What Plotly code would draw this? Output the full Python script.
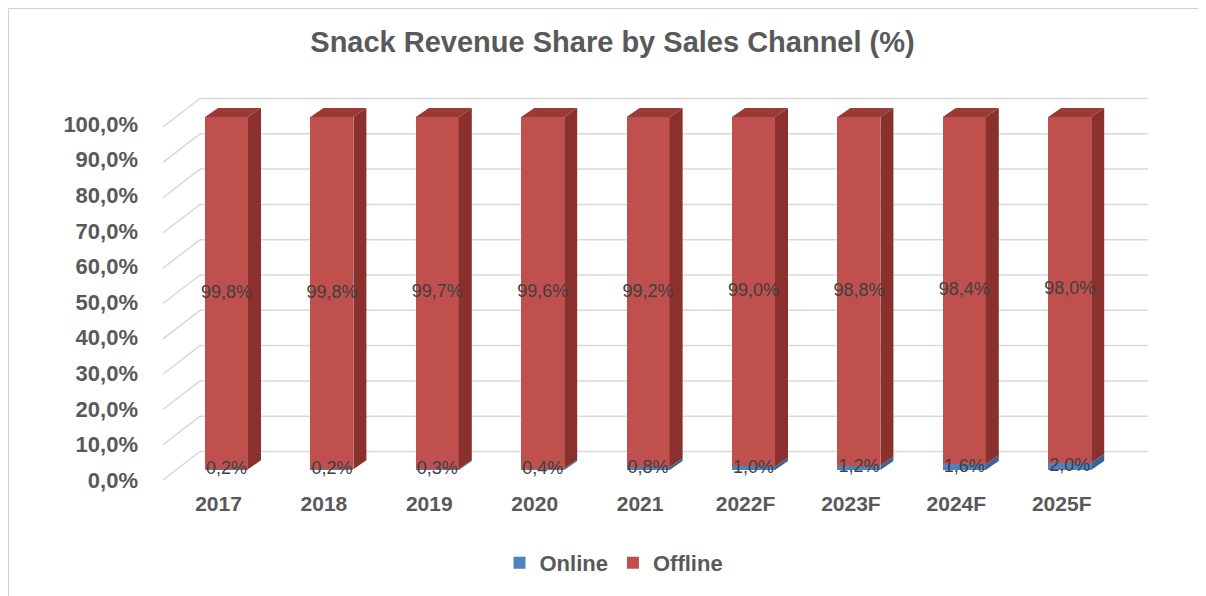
import plotly.graph_objects as go

# ---------------- data ----------------
categories = ["2017", "2018", "2019", "2020", "2021", "2022F", "2023F", "2024F", "2025F"]
online = [0.2, 0.2, 0.3, 0.4, 0.8, 1.0, 1.2, 1.6, 2.0]
offline = [99.8, 99.8, 99.7, 99.6, 99.2, 99.0, 98.8, 98.4, 98.0]
y_ticks = [0, 10, 20, 30, 40, 50, 60, 70, 80, 90, 100]


def pct(v):
    return f"{v:.1f}".replace(".", ",") + "%"


y_tick_labels = [pct(v) for v in y_ticks]

# ---------------- layout geometry (screen pixels; page has an 8px body margin) ----------------
OFF = 8
W, H = 1206 - OFF, 596 - OFF   # figure fits the window without scrollbars
L, R, T, B = 163 - OFF, 1148 - OFF, 90 - OFF, 487 - OFF
cat_px = 105.4          # px per category
val_px = 3.53           # px per percentage point (bar front faces)
first_center_px = 226.5 - OFF
zero_px = 470 - OFF
label_zero_px = 480 - OFF
label_px = 3.56
cat_label_shift = 8

x_range = [(L - first_center_px) / cat_px, (R - first_center_px) / cat_px]
x2_range = [x_range[0] + cat_label_shift / cat_px, x_range[1] + cat_label_shift / cat_px]
y_range = [-(B - zero_px) / val_px, (zero_px - T) / val_px]
y2_range = [-(B - label_zero_px) / label_px, (label_zero_px - T) / label_px]

bar_w = 43 / cat_px
depth_dx = 13 / cat_px
depth_dy = 9 / val_px
wall_dx = 37 / cat_px
back_dy = 18.5 / val_px
label_dy = 10 / val_px
back_left = x_range[0] + wall_dx

RED, RED_SIDE, RED_TOP = "#C0504D", "#8A302D", "#9A3A37"
BLUE, BLUE_SIDE = "#4F81BD", "#3A6497"
GRID = "#D9D9D9"
TXT = "#595959"
FONT = "Liberation Sans, Arial, sans-serif"

xs = list(range(len(categories)))

fig = go.Figure()

# front faces
fig.add_trace(go.Bar(x=xs, y=online, name="Online", marker=dict(color=BLUE, line=dict(width=0)),
                     width=bar_w, hoverinfo="skip"))
fig.add_trace(go.Bar(x=xs, y=offline, name="Offline", marker=dict(color=RED, line=dict(width=0)),
                     width=bar_w, hoverinfo="skip"))


def side_poly(bottoms, tops):
    px, py = [], []
    for i, (b, t) in enumerate(zip(bottoms, tops)):
        xr = i + bar_w / 2
        px += [xr, xr + depth_dx, xr + depth_dx, xr, xr, None]
        py += [b, b + depth_dy, t + depth_dy, t, b, None]
    return px, py


def top_poly(tops):
    px, py = [], []
    for i, t in enumerate(tops):
        xl, xr = i - bar_w / 2, i + bar_w / 2
        px += [xl, xr, xr + depth_dx, xl + depth_dx, xl, None]
        py += [t, t, t + depth_dy, t + depth_dy, t, None]
    return px, py


totals = [a + b for a, b in zip(online, offline)]

sx, sy = side_poly([0] * len(online), online)
fig.add_trace(go.Scatter(x=sx, y=sy, fill="toself", fillcolor=BLUE_SIDE, mode="lines",
                         line=dict(width=0, color=BLUE_SIDE), showlegend=False, hoverinfo="skip"))
sx, sy = side_poly(online, totals)
fig.add_trace(go.Scatter(x=sx, y=sy, fill="toself", fillcolor=RED_SIDE, mode="lines",
                         line=dict(width=0, color=RED_SIDE), showlegend=False, hoverinfo="skip"))
tx, ty = top_poly(totals)
fig.add_trace(go.Scatter(x=tx, y=ty, fill="toself", fillcolor=RED_TOP, mode="lines",
                         line=dict(width=0, color=RED_TOP), showlegend=False, hoverinfo="skip"))

# data labels
fig.add_trace(go.Scatter(x=xs, y=[o + f / 2 for o, f in zip(online, offline)], mode="text",
                         text=[pct(v) for v in offline], textposition="middle center",
                         textfont=dict(family=FONT, size=18, color="#3F3F3F"),
                         showlegend=False, hoverinfo="skip", cliponaxis=False))
fig.add_trace(go.Scatter(x=xs, y=[o / 2 for o in online], mode="text",
                         text=[pct(v) for v in online], textposition="middle center",
                         textfont=dict(family=FONT, size=18, color="#3F3F3F"),
                         showlegend=False, hoverinfo="skip", cliponaxis=False))

# empty trace that carries the label axes (x2 / y2)
fig.add_trace(go.Scatter(x=[None], y=[None], xaxis="x2", yaxis="y2", mode="markers",
                         showlegend=False, hoverinfo="skip"))

# back-wall gridlines and side-wall lines
shapes = []
for v in y_ticks:
    shapes.append(dict(type="line", xref="x", yref="y", layer="below",
                       x0=back_left, x1=x_range[1], y0=v + back_dy, y1=v + back_dy,
                       line=dict(color=GRID, width=1.5)))
    shapes.append(dict(type="line", xref="x", yref="y", layer="below",
                       x0=x_range[0], x1=back_left, y0=v - label_dy, y1=v + back_dy,
                       line=dict(color=GRID, width=1.5)))
# chart border (only the left and top edges are visible in the reference)
pw, ph = R - L, B - T
bx, by = (0.5 - L) / pw, (B - 0.5) / ph
shapes.append(dict(type="line", xref="paper", yref="paper", layer="below",
                   x0=bx, x1=bx, y0=(B - H - 20) / ph, y1=by,
                   line=dict(color="#D0D0D0", width=1)))
shapes.append(dict(type="line", xref="paper", yref="paper", layer="below",
                   x0=bx, x1=(W + 20 - L) / pw, y0=by, y1=by,
                   line=dict(color="#D0D0D0", width=1)))

fig.update_layout(
    width=W, height=H,
    margin=dict(l=L, r=W - R, t=T, b=H - B),
    paper_bgcolor="white", plot_bgcolor="white",
    barmode="stack",
    shapes=shapes,
    font=dict(family=FONT, color=TXT),
    title=dict(text="Snack Revenue Share by Sales Channel (%)", x=(612.5 - OFF) / W,
               xanchor="center", y=1 - (42 - OFF) / H, yanchor="middle", yref="container",
               font=dict(family=FONT, size=29, color=TXT, weight="bold")),
    xaxis=dict(range=x_range, showgrid=False, zeroline=False, showline=False,
               showticklabels=False, ticks=""),
    yaxis=dict(range=y_range, showgrid=False, zeroline=False, showline=False,
               showticklabels=False, ticks=""),
    xaxis2=dict(range=x2_range, overlaying="x", side="bottom", anchor="y2",
                tickvals=xs, ticktext=categories, showgrid=False, zeroline=False,
                showline=False, ticks="", ticklabelstandoff=2,
                tickfont=dict(family=FONT, size=21, color=TXT, weight="bold")),
    yaxis2=dict(range=y2_range, overlaying="y", side="left", anchor="x2",
                tickvals=y_ticks, ticktext=y_tick_labels, showgrid=False,
                zeroline=False, showline=False, ticks="", ticklabelstandoff=24,
                tickfont=dict(family=FONT, size=22, color=TXT, weight="bold")),
    legend=dict(orientation="h", x=(614 - OFF - L) / pw, xanchor="center",
                y=(B - (563 - OFF)) / ph, yanchor="middle",
                font=dict(family=FONT, size=22, color=TXT, weight="bold"),
                itemwidth=30, traceorder="normal"),
)

fig.write_html("out.html")
